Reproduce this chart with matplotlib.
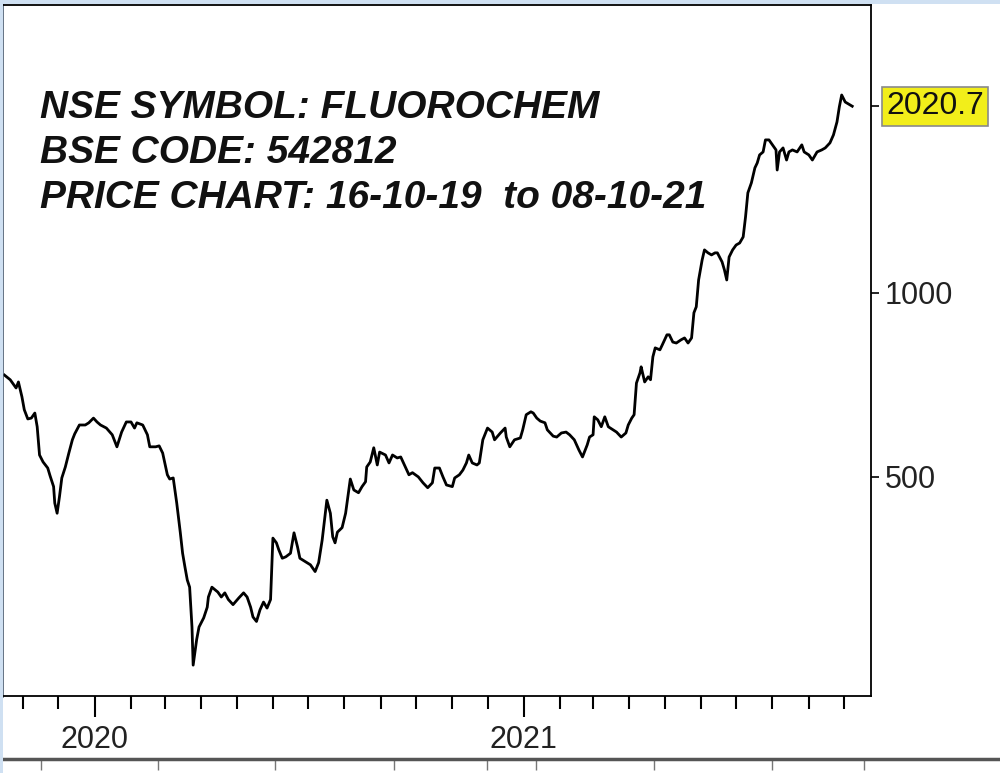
import matplotlib
matplotlib.use('Agg')
import matplotlib.pyplot as plt
import matplotlib.dates as mdates
import matplotlib.transforms as mtransforms
from matplotlib.ticker import FixedLocator, NullLocator, FixedFormatter
from matplotlib.patches import Rectangle
import pandas as pd

dates = [
    '2019-10-16', '2019-10-21', '2019-10-26', '2019-10-28', '2019-10-31', '2019-11-02',
    '2019-11-05', '2019-11-08', '2019-11-11', '2019-11-13', '2019-11-15', '2019-11-18',
    '2019-11-22', '2019-11-24', '2019-11-27', '2019-11-28', '2019-11-30', '2019-12-02',
    '2019-12-04', '2019-12-07', '2019-12-10', '2019-12-13', '2019-12-15', '2019-12-19',
    '2019-12-24', '2019-12-27', '2019-12-31', '2020-01-03', '2020-01-06', '2020-01-11',
    '2020-01-16', '2020-01-20', '2020-01-24', '2020-01-28', '2020-02-01', '2020-02-04',
    '2020-02-06', '2020-02-11', '2020-02-15', '2020-02-17', '2020-02-22', '2020-02-25',
    '2020-02-28', '2020-03-03', '2020-03-05', '2020-03-08', '2020-03-11', '2020-03-14',
    '2020-03-16', '2020-03-18', '2020-03-20', '2020-03-22', '2020-03-24', '2020-03-25',
    '2020-03-28', '2020-03-30', '2020-04-03', '2020-04-06', '2020-04-07', '2020-04-10',
    '2020-04-15', '2020-04-18', '2020-04-21', '2020-04-24', '2020-04-28', '2020-05-03',
    '2020-05-07', '2020-05-10', '2020-05-13', '2020-05-15', '2020-05-18', '2020-05-21',
    '2020-05-24', '2020-05-27', '2020-05-30', '2020-06-01', '2020-06-04', '2020-06-06',
    '2020-06-09', '2020-06-12', '2020-06-16', '2020-06-19', '2020-06-22', '2020-06-24',
    '2020-06-29', '2020-07-03', '2020-07-07', '2020-07-10', '2020-07-13', '2020-07-17',
    '2020-07-20', '2020-07-22', '2020-07-24', '2020-07-26', '2020-07-30', '2020-08-02',
    '2020-08-06', '2020-08-09', '2020-08-13', '2020-08-16', '2020-08-19', '2020-08-20',
    '2020-08-23', '2020-08-26', '2020-08-29', '2020-08-31', '2020-09-05', '2020-09-08',
    '2020-09-11', '2020-09-15', '2020-09-18', '2020-09-22', '2020-09-25', '2020-09-28',
    '2020-10-03', '2020-10-07', '2020-10-11', '2020-10-15', '2020-10-17', '2020-10-21',
    '2020-10-24', '2020-10-27', '2020-11-01', '2020-11-03', '2020-11-07', '2020-11-10',
    '2020-11-13', '2020-11-15', '2020-11-18', '2020-11-22', '2020-11-24', '2020-11-27',
    '2020-12-01', '2020-12-05', '2020-12-07', '2020-12-12', '2020-12-16', '2020-12-17',
    '2020-12-20', '2020-12-24', '2020-12-29', '2020-12-31', '2021-01-03', '2021-01-07',
    '2021-01-09', '2021-01-12', '2021-01-15', '2021-01-19', '2021-01-21', '2021-01-26',
    '2021-01-29', '2021-02-02', '2021-02-06', '2021-02-09', '2021-02-13', '2021-02-17',
    '2021-02-20', '2021-02-24', '2021-02-26', '2021-03-01', '2021-03-02', '2021-03-05',
    '2021-03-08', '2021-03-11', '2021-03-14', '2021-03-18', '2021-03-21', '2021-03-25',
    '2021-03-29', '2021-03-31', '2021-04-03', '2021-04-05', '2021-04-07', '2021-04-10',
    '2021-04-11', '2021-04-14', '2021-04-17', '2021-04-19', '2021-04-21', '2021-04-23',
    '2021-04-27', '2021-04-29', '2021-05-03', '2021-05-05', '2021-05-08', '2021-05-11',
    '2021-05-15', '2021-05-18', '2021-05-21', '2021-05-24', '2021-05-26', '2021-05-28',
    '2021-05-30', '2021-06-02', '2021-06-04', '2021-06-07', '2021-06-10', '2021-06-13',
    '2021-06-15', '2021-06-19', '2021-06-21', '2021-06-23', '2021-06-25', '2021-06-28',
    '2021-07-01', '2021-07-04', '2021-07-07', '2021-07-09', '2021-07-11', '2021-07-14',
    '2021-07-17', '2021-07-19', '2021-07-21', '2021-07-24', '2021-07-26', '2021-07-29',
    '2021-08-01', '2021-08-04', '2021-08-05', '2021-08-07', '2021-08-10', '2021-08-13',
    '2021-08-15', '2021-08-18', '2021-08-22', '2021-08-26', '2021-08-28', '2021-09-01',
    '2021-09-04', '2021-09-08', '2021-09-12', '2021-09-15', '2021-09-19', '2021-09-22',
    '2021-09-25', '2021-09-27', '2021-09-29', '2021-10-02', '2021-10-08',
]

prices = [
    734, 721, 699, 715, 676, 644,
    622, 624, 636, 604, 543, 529,
    517, 502, 482, 453, 436, 464,
    498, 519, 547, 575, 588, 608,
    608, 613, 624, 615, 608, 601,
    586, 560, 592, 615, 615, 601,
    613, 608, 586, 560, 560, 562,
    547, 504, 496, 498, 453, 406,
    375, 356, 339, 330, 284, 246,
    271, 284, 294, 306, 318, 330,
    324, 318, 323, 315, 309, 317,
    323, 318, 306, 295, 290, 303,
    312, 305, 315, 397, 390, 380,
    368, 370, 375, 405, 384, 368,
    363, 359, 350, 362, 394, 458,
    436, 399, 390, 406, 413, 436,
    496, 476, 471, 482, 491, 519,
    529, 558, 523, 549, 543, 527,
    543, 537, 539, 519, 504, 508,
    500, 489, 480, 489, 517, 517,
    500, 485, 482, 498, 504, 513,
    527, 543, 527, 523, 527, 575,
    601, 592, 575, 590, 601, 581,
    560, 575, 579, 597, 632, 639,
    636, 624, 617, 613, 597, 583,
    581, 590, 592, 586, 575, 553,
    539, 564, 581, 586, 627, 620,
    604, 627, 604, 597, 592, 581,
    590, 608, 624, 632, 712, 740,
    757, 715, 729, 721, 786, 813,
    807, 822, 854, 854, 831, 828,
    838, 844, 828, 844, 928, 949,
    1050, 1132, 1176, 1163, 1154, 1163,
    1163, 1124, 1091, 1050, 1145, 1176,
    1198, 1207, 1235, 1331, 1458, 1514,
    1602, 1632, 1682, 1701, 1780, 1780,
    1747, 1714, 1589, 1701, 1727, 1650,
    1701, 1714, 1701, 1747, 1701, 1682,
    1650, 1701, 1714, 1727, 1760, 1814,
    1905, 2016, 2108, 2053, 2020.7,
]

last_price = 2020.7
y_tick_values = [500, 1000]
y_tick_labels = ['500', '1000']
title_lines = [
    'NSE SYMBOL: FLUOROCHEM',
    'BSE CODE: 542812',
    'PRICE CHART: 16-10-19  to 08-10-21',
]
x_start = '2019-10-14'
x_end = '2021-10-24'
y_min, y_max = 219, 2959

W, H = 1000, 773
fig = plt.figure(figsize=(W / 100, H / 100), dpi=100)
fig.patch.set_facecolor('white')


def px(l, t, r, b):
    return [l / W, 1 - b / H, (r - l) / W, (b - t) / H]


# window-frame decorations
fig.add_artist(Rectangle((0, 1 - 4 / H), 1, 4 / H, transform=fig.transFigure,
                         facecolor='#cfe0f2', edgecolor='none'))
fig.add_artist(Rectangle((0, 0), 3 / W, 1, transform=fig.transFigure,
                         facecolor='#cfe0f2', edgecolor='none'))

ax = fig.add_axes(px(2, 5, 871, 696))
x = pd.to_datetime(dates)
ax.plot(x, prices, color='black', lw=2.0, solid_joinstyle='round')
ax.set_yscale('log')
ax.set_ylim(y_min, y_max)
ax.set_xlim(pd.Timestamp(x_start), pd.Timestamp(x_end))

for side in ['top', 'right', 'bottom']:
    ax.spines[side].set_color('black')
    ax.spines[side].set_linewidth(1.3)
ax.spines['left'].set_color('#44566b')
ax.spines['left'].set_linewidth(2.6)

# y axis on the right, log scale
ax.yaxis.tick_right()
ax.yaxis.set_major_locator(FixedLocator(y_tick_values + [last_price]))
ax.yaxis.set_major_formatter(FixedFormatter(y_tick_labels + ['']))
ax.yaxis.set_minor_locator(NullLocator())
ax.tick_params(axis='y', which='major', direction='out', length=6, width=1.2,
               pad=4, labelsize=22, labelcolor='#222222', colors='black')
for lbl in ax.get_yticklabels():
    lbl.set_fontfamily('Liberation Sans')

# last price tag
trans = mtransforms.blended_transform_factory(ax.transAxes, ax.transData)
trans = mtransforms.offset_copy(trans, fig=fig, x=15, y=0, units='dots')
ax.text(1.0, last_price, f'{last_price:.1f}', transform=trans, ha='left', va='center',
        fontsize=23, family='Liberation Sans', color='#111111',
        bbox=dict(boxstyle='square,pad=0.14', facecolor='#f2ee1a', edgecolor='#8a8a8a', lw=1.2),
        clip_on=False)

# x axis: years and monthly ticks
ax.xaxis.set_major_locator(mdates.YearLocator())
ax.xaxis.set_major_formatter(mdates.DateFormatter('%Y'))
ax.xaxis.set_minor_locator(mdates.MonthLocator())
ax.tick_params(axis='x', which='major', direction='out', length=15, width=1.5,
               pad=6, labelsize=22, labelcolor='#222222')
ax.tick_params(axis='x', which='minor', direction='out', length=9, width=1.5)
for lbl in ax.get_xticklabels():
    lbl.set_fontfamily('Liberation Sans')

# title text block
baselines = [0.8365, 0.7713, 0.7062]
for line, yb in zip(title_lines, baselines):
    ax.text(0.0437, yb, line, transform=ax.transAxes, ha='left', va='baseline',
            fontsize=28, fontweight='bold', fontstyle='italic',
            family='Liberation Sans', color='#111111')

# lower pane scale strip
ax2 = fig.add_axes(px(0, 759, 1000, 773))
ax2.set_xlim(0, 1000)
ax2.set_ylim(0, 1)
for side in ['left', 'right', 'bottom']:
    ax2.spines[side].set_visible(False)
ax2.spines['top'].set_color('#555555')
ax2.spines['top'].set_linewidth(2.5)
ax2.xaxis.tick_top()
ax2.set_xticks([41, 158, 275, 394, 487, 536, 654, 772, 864])
ax2.tick_params(axis='x', direction='in', length=8, width=1, colors='#777777',
                labeltop=False, labelbottom=False)
ax2.set_yticks([])
ax2.patch.set_alpha(0)

fig.savefig('out.png', dpi=100)
